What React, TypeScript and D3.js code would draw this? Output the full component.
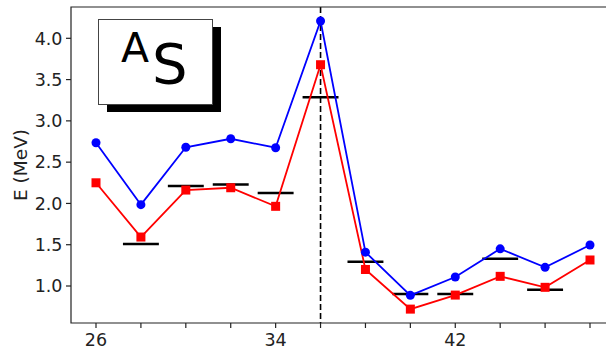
import { useEffect, useRef } from 'react'
import * as d3 from 'd3'

const neutrons = [26, 28, 30, 32, 34, 36, 38, 40, 42, 44, 46, 48]
const blueVals = [2.735, 1.985, 2.68, 2.783, 2.675, 4.21, 1.41, 0.887, 1.109, 1.45, 1.226, 1.496]
const redVals = [2.25, 1.593, 2.162, 2.19, 1.965, 3.68, 1.2, 0.72, 0.89, 1.117, 0.984, 1.315]
const expN = [28, 30, 32, 34, 36, 38, 40, 42, 44, 46]
const expVals = [1.508, 2.21, 2.23, 2.126, 3.285, 1.294, 0.903, 0.903, 1.33, 0.955]
const xTicks = [26, 28, 30, 32, 34, 36, 38, 40, 42, 44, 46, 48]
const xLabels = [26, 34, 42]
const yTicks = [1.0, 1.5, 2.0, 2.5, 3.0, 3.5, 4.0]
const magicN = 36

export default function App() {
  const svgRef = useRef<SVGSVGElement>(null)

  useEffect(() => {
    if (!svgRef.current) return
    const W = 606
    const left = 71, top = 7, bottom = 323

    const svg = d3.select(svgRef.current)
    svg.selectAll('*').remove()

    const x = d3.scaleLinear().domain([26, 48]).range([96, 590])
    const y = d3.scaleLinear().domain([1, 4]).range([286, 38.3])
    const font = 'DejaVu Sans, sans-serif'

    // inset label box with shadow
    svg.append('rect').attr('x', 107).attr('y', 27).attr('width', 114).attr('height', 85).attr('fill', '#000')
    svg.append('rect').attr('x', 98.5).attr('y', 19.5).attr('width', 114).attr('height', 85)
      .attr('fill', '#fff').attr('stroke', '#444').attr('stroke-width', 1)
    svg.append('text').attr('x', 121).attr('y', 62).attr('font-family', font).attr('font-size', 41)
      .attr('fill', '#000').text('A')
    svg.append('text').attr('x', 152).attr('y', 83).attr('font-family', font).attr('font-size', 56)
      .attr('fill', '#000').text('S')

    // dashed vertical line
    svg.append('line')
      .attr('x1', x(magicN)).attr('x2', x(magicN)).attr('y1', top).attr('y2', bottom)
      .attr('stroke', '#000').attr('stroke-width', 1.6).attr('stroke-dasharray', '6,3')

    // experimental bars
    svg.append('g').selectAll('line').data(expN).join('line')
      .attr('x1', d => x(d - 0.8)).attr('x2', d => x(d + 0.8))
      .attr('y1', (_, i) => y(expVals[i])).attr('y2', (_, i) => y(expVals[i]))
      .attr('stroke', '#000').attr('stroke-width', 2.5)

    const line = d3.line<number>().x((_, i) => x(neutrons[i])).y(d => y(d))

    svg.append('path').datum(redVals).attr('d', line).attr('fill', 'none')
      .attr('stroke', '#ff0000').attr('stroke-width', 1.8)
    svg.append('g').selectAll('rect').data(redVals).join('rect')
      .attr('x', (_, i) => x(neutrons[i]) - 4.5).attr('y', d => y(d) - 4.5)
      .attr('width', 9).attr('height', 9).attr('fill', '#ff0000')

    svg.append('path').datum(blueVals).attr('d', line).attr('fill', 'none')
      .attr('stroke', '#0000ff').attr('stroke-width', 1.8)
    svg.append('g').selectAll('circle').data(blueVals).join('circle')
      .attr('cx', (_, i) => x(neutrons[i])).attr('cy', d => y(d)).attr('r', 4.5)
      .attr('fill', '#0000ff')

    // spines
    svg.append('path')
      .attr('d', `M${W},${top}H${left}V${bottom}H${W}`)
      .attr('fill', 'none').attr('stroke', '#222').attr('stroke-width', 1.2)

    // x axis ticks
    const xg = svg.append('g')
    xg.selectAll('line').data(xTicks).join('line')
      .attr('x1', d => x(d)).attr('x2', d => x(d)).attr('y1', bottom).attr('y2', bottom + 5)
      .attr('stroke', '#222').attr('stroke-width', 1.2)
    xg.selectAll('text').data(xLabels).join('text')
      .attr('x', d => x(d)).attr('y', bottom + 22.5).attr('text-anchor', 'middle')
      .attr('font-family', font).attr('font-size', 17.5).attr('fill', '#222')
      .text(d => d)

    // y axis ticks
    const yg = svg.append('g')
    yg.selectAll('line').data(yTicks).join('line')
      .attr('x1', left - 5).attr('x2', left).attr('y1', d => y(d)).attr('y2', d => y(d))
      .attr('stroke', '#222').attr('stroke-width', 1.2)
    yg.selectAll('text').data(yTicks).join('text')
      .attr('x', left - 8.5).attr('y', d => y(d)).attr('dy', '0.36em').attr('text-anchor', 'end')
      .attr('font-family', font).attr('font-size', 17.5).attr('fill', '#222')
      .text(d => d3.format('.1f')(d))

    svg.append('text')
      .attr('transform', `translate(26.5,${(top + bottom) / 2}) rotate(-90)`)
      .attr('text-anchor', 'middle')
      .attr('font-family', font).attr('font-size', 18.5).attr('fill', '#222')
      .text('E (MeV)')
  }, [])

  return (
    <svg ref={svgRef} width={606} height={349}
      style={{ position: 'absolute', left: 0, top: 0, background: '#fff' }} />
  )
}
